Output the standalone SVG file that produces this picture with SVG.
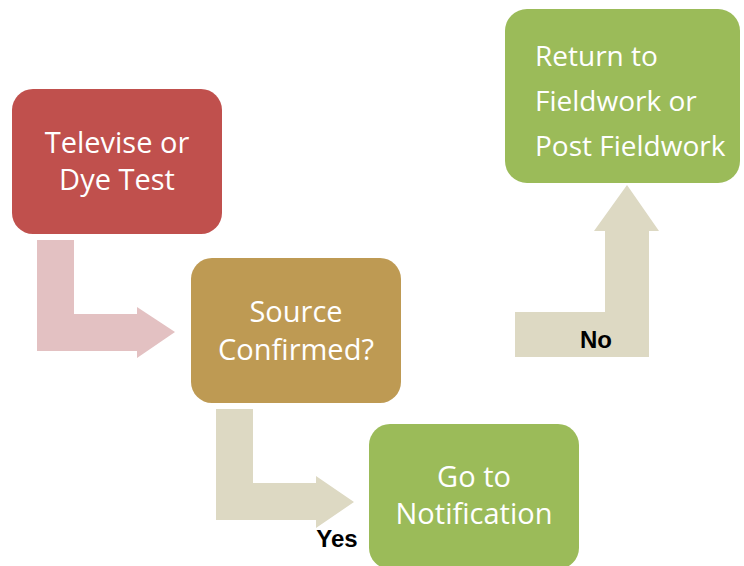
<svg xmlns="http://www.w3.org/2000/svg" width="744" height="566" viewBox="0 0 744 566">
  <style>
    .node-text { font-family: "Open Sans", "Liberation Sans", sans-serif; font-size: 29px; fill: #FFFFFF; }
    .node-text.small { font-size: 28px; }
    .lbl { font-family: "Liberation Sans", Arial, sans-serif; font-size: 24px; font-weight: bold; fill: #000000; }
  </style>
  <rect x="0" y="0" width="744" height="566" fill="#FFFFFF"/>
  <g id="connectors">
    <path id="arrow-televise-source" d="M37,240 H74 V314 H137 V307 L175,332 L137,358 V351 H37 Z" fill="#E3C1C2"/>
    <path id="arrow-source-notification" d="M216,409 H253 V483 H316 V476 L354,502 L316,528 V520 H216 Z" fill="#DDD9C3"/>
    <path id="arrow-source-return" d="M515,312 H605 V231 H594 L627,185 L659,231 H649 V357 H515 Z" fill="#DDD9C3"/>
    <text class="lbl" x="337" y="547" text-anchor="middle">Yes</text>
    <text class="lbl" x="596" y="348" text-anchor="middle">No</text>
  </g>
  <g id="node-televise">
    <rect x="12" y="89" width="210" height="145" rx="21" fill="#C0504D"/>
    <text class="node-text" x="117" y="153" text-anchor="middle">Televise or</text>
    <text class="node-text" x="117" y="190" text-anchor="middle">Dye Test</text>
  </g>
  <g id="node-source">
    <rect x="191" y="258" width="210" height="145" rx="21" fill="#BE9A53"/>
    <text class="node-text" x="296" y="322" text-anchor="middle">Source</text>
    <text class="node-text" x="296" y="360" text-anchor="middle">Confirmed?</text>
  </g>
  <g id="node-notification">
    <rect x="369" y="424" width="210" height="145" rx="21" fill="#9BBB59"/>
    <text class="node-text" x="474" y="487" text-anchor="middle">Go to</text>
    <text class="node-text" x="474" y="524" text-anchor="middle">Notification</text>
  </g>
  <g id="node-return">
    <rect x="505" y="9" width="235" height="174" rx="22" fill="#9BBB59"/>
    <text class="node-text small" x="535" y="66">Return to</text>
    <text class="node-text small" x="535" y="111">Fieldwork or</text>
    <text class="node-text small" x="535" y="156">Post Fieldwork</text>
  </g>
</svg>
